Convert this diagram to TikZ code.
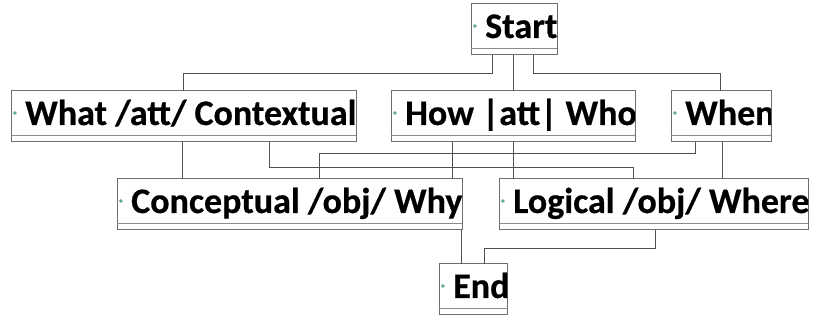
\documentclass[tikz,border=0pt]{standalone}
\usepackage{fontspec}
\setmainfont{Carlito}[BoldFeatures={FakeBold=0.5}]
\usetikzlibrary{calc}
\definecolor{boxline}{HTML}{6E6E6E}
\definecolor{sepline}{HTML}{8C8C8C}
\definecolor{wire}{HTML}{505050}
\definecolor{handlegreen}{HTML}{6AA89A}
\tikzset{
  box/.style={draw=boxline, line width=1pt, fill=white, inner sep=0pt, outer sep=0pt,
              anchor=north west, minimum height=51pt},
  boxlabel/.style={anchor=base west, inner sep=0pt, font=\fontsize{36}{43}\selectfont\bfseries},
  conn/.style={draw=wire, line width=0.9pt},
  sepl/.style={draw=sepline, line width=1pt},
}
% a box with its label (clipped at the box edge), the divider line near the bottom
% and the small handle mark
\newcommand{\umlbox}[5]{% name, x, y, width, text
  \node[box, minimum width=#4pt] (#1) at (#2,#3) {};
  \draw[sepl] ([yshift=6pt]#1.south west) -- ([yshift=6pt]#1.south east);
  \begin{scope}
    \clip (#1.north west) rectangle (#1.south east);
    \node[boxlabel] (#1-text) at ($(#1.north west)+(14,34)$) {#5};
  \end{scope}
  \fill[handlegreen] ($(#1.north west)+(3.8,22)$) +(-2,0) -- +(0,-2) -- +(2,0) -- +(0,2) -- cycle;
}
\begin{document}
\begin{tikzpicture}[x=1pt,y=-1pt]
\useasboundingbox[fill=white] (0,0) rectangle (815,320);

\umlbox{start}{471}{4}{86}{Start}
\umlbox{what}{11}{91}{345}{What /att/ Contextual}
\umlbox{how}{391}{91}{244}{How |att| Who}
\umlbox{when}{671}{91}{100}{When}
\umlbox{concept}{117}{179}{345}{Conceptual /obj/ Why}
\umlbox{logic}{499}{179}{309}{Logical /obj/ Where}
\umlbox{end}{439}{264}{68}{End}

% Start to the first row
\draw[conn] ($(start.south west)+(21,0)$) -- ++(0,18) -| ($(what.north west)+(172,0)$);
\draw[conn] ($(start.south west)+(42,0)$) -- ($(how.north west)+(122,0)$);
\draw[conn] ($(start.south west)+(62,0)$) -- ++(0,18) -| ($(when.north west)+(49,0)$);

% first row to second row
\draw[conn] ($(what.south west)+(171,0)$) -- ($(concept.north west)+(65,0)$);
\draw[conn] ($(what.south west)+(258,0)$) -- ++(0,25) -| ($(logic.north west)+(134,0)$);
\draw[conn] ($(how.south west)+(61,0)$) -- ($(concept.north west)+(335,0)$);
\draw[conn] ($(how.south west)+(122,0)$) -- ($(logic.north west)+(14,0)$);
\draw[conn] ($(when.south west)+(24,0)$) -- ++(0,11) -| ($(concept.north west)+(202,0)$);
\draw[conn] ($(when.south west)+(51,0)$) -- ($(logic.north west)+(223,0)$);

% second row to End
\draw[conn] ($(concept.south east)+(-1,0)$) -- ($(end.north west)+(22,0)$);
\draw[conn] ($(logic.south west)+(156,0)$) -- ++(0,18) -| ($(end.north west)+(45,0)$);
\end{tikzpicture}
\end{document}
